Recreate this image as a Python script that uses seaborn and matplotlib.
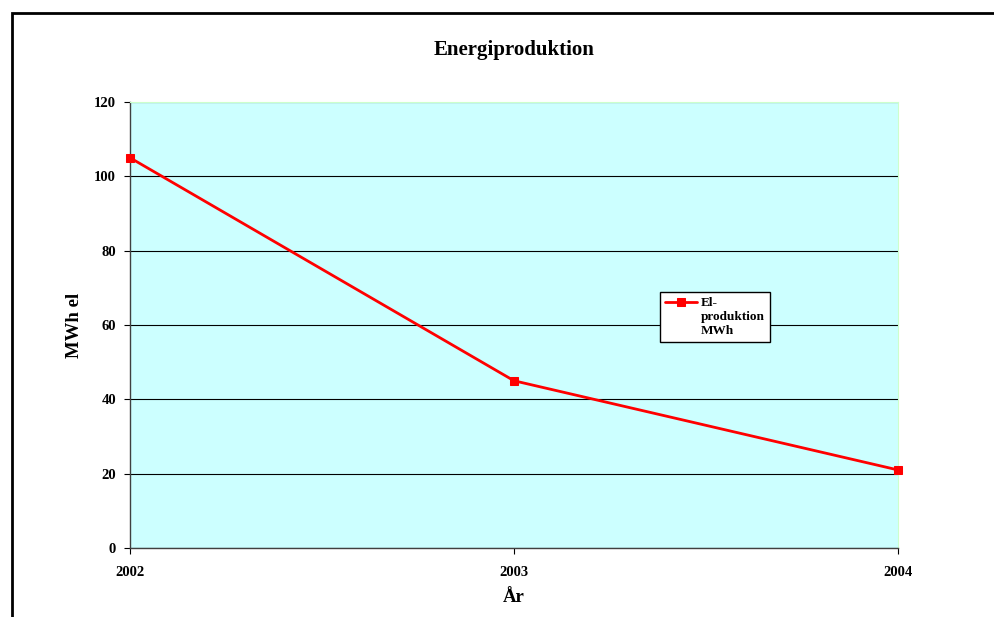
import pandas as pd
import matplotlib.pyplot as plt
import seaborn as sns
from matplotlib.patches import Rectangle

# Data
years = ["2002", "2003", "2004"]
el_production = [105, 45, 21]

df = pd.DataFrame({"year": years, "value": el_production})
df["pos"] = range(len(years))

sns.set_style("white")
plt.rcParams["font.family"] = ["Liberation Serif", "DejaVu Serif"]
plt.rcParams["font.weight"] = "bold"
for k in ["text.color", "axes.labelcolor", "xtick.color", "ytick.color"]:
    plt.rcParams[k] = "black"

W, H = 995, 617
fig = plt.figure(figsize=(W / 100, H / 100), dpi=100)
ax = fig.add_axes([130 / W, 1 - 548 / H, (898 - 130) / W, (548 - 102) / H])
ax.set_facecolor("#CCFFFF")

# outer chart frame (cut off at right/bottom in the original)
fig.patches.append(Rectangle((12 / W, -0.05), 1.2, 1 - 13 / H + 0.05,
                             transform=fig.transFigure, fill=False,
                             edgecolor="black", linewidth=2))

sns.lineplot(data=df, x="pos", y="value", ax=ax, color="#FF0000", linewidth=2,
             marker="s", markersize=6, markeredgecolor="#FF0000",
             label="El-\nproduktion\nMWh", clip_on=False, zorder=5)

ax.set_xlim(0, 2)
ax.set_ylim(0, 120)
ax.set_xticks(df["pos"])
ax.set_xticklabels(years)
ax.set_yticks(range(0, 121, 20))
ax.yaxis.grid(True, color="black", linewidth=0.8)
ax.set_axisbelow(True)
ax.tick_params(axis="both", labelsize=10.5, length=4, direction="out",
               left=True, bottom=True, color="black")
ax.tick_params(axis="x", pad=9)
ax.tick_params(axis="y", pad=6)
for lab in ax.get_xticklabels() + ax.get_yticklabels():
    lab.set_fontweight("bold")

for s in ["top", "right"]:
    ax.spines[s].set_color("#CCFFCC")
for s in ["left", "bottom"]:
    ax.spines[s].set_color("#404040")
    ax.spines[s].set_linewidth(1)

ax.set_xlabel("År", fontsize=13.5, fontweight="bold", labelpad=7)
ax.set_ylabel("MWh el", fontsize=13.5, fontweight="bold", labelpad=8)
fig.text((130 + 898) / 2 / W, 1 - 50 / H, "Energiproduktion", ha="center",
         va="center", fontsize=15, fontweight="bold")

leg = ax.legend(loc="upper left", bbox_to_anchor=((660 - 130) / 768, (548 - 292) / 446),
                frameon=True, fancybox=False, fontsize=9.5, handlelength=2.4,
                borderpad=0.4, handletextpad=0.3, borderaxespad=0)
leg.get_frame().set_edgecolor("black")
leg.get_frame().set_facecolor("white")
leg.get_frame().set_alpha(1)
for t in leg.get_texts():
    t.set_fontweight("bold")
# put the line handle next to the first text line, as in the original
for col in leg._legend_handle_box.get_children():
    for row in col.get_children():
        row.align = "top"

fig.savefig("out.png", dpi=100)
